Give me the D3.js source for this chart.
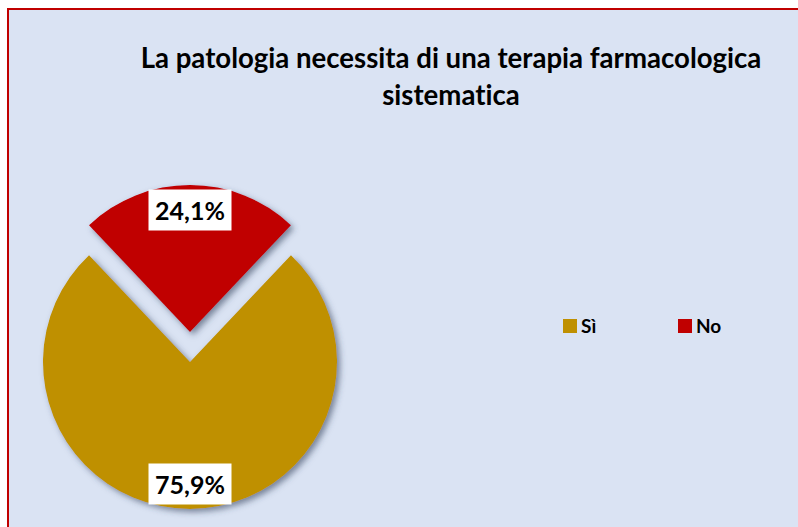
<!DOCTYPE html>
<html>
<head>
<meta charset="utf-8">
<script src="https://cdn.jsdelivr.net/npm/d3@7"></script>
<style>
  html, body { margin: 0; padding: 0; background: #ffffff; }
  svg { display: block; }
  text { font-family: Lato, "Open Sans", sans-serif; font-weight: 700; fill: #000;
         font-variant-ligatures: none; font-feature-settings: "liga" 0, "clig" 0; }
</style>
</head>
<body>
<div id="chart"></div>
<script>
// Chart data
const categories = ["Sì", "No"];
const values = [75.9, 24.1];
const valueLabels = ["75,9%", "24,1%"];
const colors = ["#bf9000", "#c00000"];
const titleLines = ["La patologia necessita di una terapia farmacologica", "sistematica"];

const W = 798, H = 527;
const svg = d3.select("#chart").append("svg").attr("width", W).attr("height", H);

// Drop shadow for pie slices
const defs = svg.append("defs");
const f = defs.append("filter").attr("id", "shadow")
  .attr("x", "-20%").attr("y", "-20%").attr("width", "140%").attr("height", "140%");
f.append("feDropShadow").attr("dx", 3).attr("dy", 3).attr("stdDeviation", 3)
  .attr("flood-color", "#34405a").attr("flood-opacity", 0.6);

// Chart area with red frame
svg.append("rect").attr("x", 8).attr("y", 9).attr("width", W + 10).attr("height", H + 10)
  .attr("fill", "#dae3f3").attr("stroke", "#c00000").attr("stroke-width", 2);

// Title, fitted to its measured width
const titleG = svg.append("g");
const titleY = [68, 105];
titleLines.forEach((t, i) => {
  titleG.append("text").attr("x", 451).attr("y", titleY[i])
    .attr("text-anchor", "middle").attr("font-size", 24).text(t);
});
const first = titleG.select("text").node();
const scale = 621 / first.getComputedTextLength();
titleG.selectAll("text").attr("font-size", 24 * scale);

// Pie
const cx = 190, cy = 362, r = 147, explode = 30;
const share0 = values[1] / d3.sum(values);
const a0 = Math.PI * share0;
const pie = d3.pie().sort(null).value(d => d).startAngle(a0).endAngle(a0 + 2 * Math.PI);
const arcs = pie(values);
const arc = d3.arc().innerRadius(0).outerRadius(r);
const labelArc = d3.arc().innerRadius(122).outerRadius(122);

const pieG = svg.append("g").attr("transform", `translate(${cx},${cy})`);
const slices = pieG.selectAll("g.slice").data(arcs).enter().append("g")
  .attr("class", "slice")
  .attr("transform", (d, i) => {
    if (i !== 1) return null;
    const m = (d.startAngle + d.endAngle) / 2;
    return `translate(${explode * Math.sin(m)},${-explode * Math.cos(m)})`;
  });

slices.append("path").attr("d", arc).attr("fill", (d, i) => colors[i])
  .attr("filter", "url(#shadow)");

// Value labels in white boxes
slices.each(function (d, i) {
  const g = d3.select(this);
  const [lx, ly] = labelArc.centroid(d);
  g.append("text").attr("x", lx).attr("y", ly)
    .attr("text-anchor", "middle").attr("dominant-baseline", "central")
    .attr("font-size", 25).text(valueLabels[i]);
  const bw = 83, bh = 41;
  g.insert("rect", "text").attr("x", lx - bw / 2).attr("y", ly - bh / 2)
    .attr("width", bw).attr("height", bh).attr("fill", "#ffffff");
});

// Legend
const legendX = [563, 678];
const legend = svg.append("g");
categories.forEach((c, i) => {
  legend.append("rect").attr("x", legendX[i]).attr("y", 319).attr("width", 14).attr("height", 14)
    .attr("fill", colors[i]);
  legend.append("text").attr("x", legendX[i] + 18).attr("y", 332.5)
    .attr("font-size", 19).text(c);
});
</script>
</body>
</html>
